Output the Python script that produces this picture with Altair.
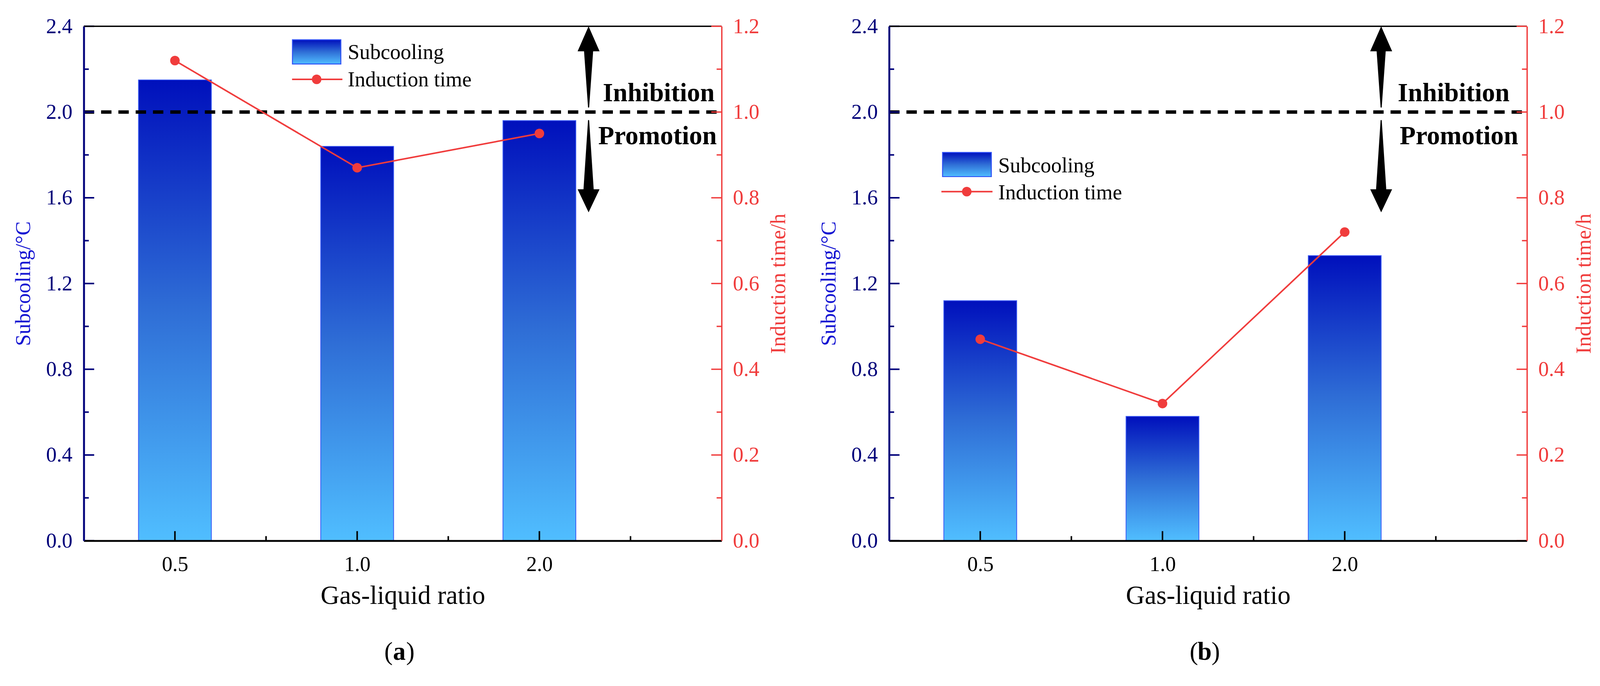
import altair as alt
import pandas as pd

# ---------------- data ----------------
ratio_labels = ["0.5", "1.0", "2.0"]
positions = [1, 2, 3]
subcooling_a = [2.15, 1.84, 1.96]
induction_a = [1.12, 0.87, 0.95]
subcooling_b = [1.12, 0.58, 1.33]
induction_b = [0.47, 0.32, 0.72]
threshold = [2.0]

left_major = [0.0, 0.4, 0.8, 1.2, 1.6, 2.0, 2.4]
left_minor = [0.2, 0.6, 1.0, 1.4, 1.8, 2.2]
right_major = [0.0, 0.2, 0.4, 0.6, 0.8, 1.0, 1.2]
right_minor = [0.1, 0.3, 0.5, 0.7, 0.9, 1.1]
x_major = [1, 2, 3]
x_minor = [1.5, 2.5, 3.5]

# ---------------- styling / layout ----------------
F = "Liberation Serif"
NAVY = "#00007A"
BLUE = "#1414D2"
RED = "#F03C3C"
W, H = 1660, 1338

xs = alt.Scale(domain=[0.5, 4.0], nice=False, zero=False)
ysL = alt.Scale(domain=[0, 2.4], nice=False)
ysR = alt.Scale(domain=[0, 1.2], nice=False)

GRAD = {
    "gradient": "linear", "x1": 0, "x2": 0, "y1": 0, "y2": 1,
    "stops": [
        {"offset": 0, "color": "#0010BC"},
        {"offset": 0.5, "color": "#2F6ED6"},
        {"offset": 1, "color": "#50BEFF"},
    ],
}

UP_HEAD = "M0,-1L0.88,1L-0.88,1Z"
DOWN_HEAD = "M0,1L0.95,-1L-0.95,-1Z"

LAYOUT = {
    "a": dict(arrow_x=3.27, inh_x=3.348, pro_x=3.323,
              sw=(543, 669, 35, 98), ln=(542, 673, 138), dot=606, tx=687, t1=85, t2=156),
    "b": dict(arrow_x=3.20, inh_x=3.291, pro_x=3.302,
              sw=(139, 266, 328, 391), ln=(136, 269, 430), dot=202, tx=284, t1=380, t2=450),
}

lab_expr = " : ".join(f"datum.value == {p} ? '{l}'" for p, l in zip(positions, ratio_labels)) + " : ''"

one = pd.DataFrame({"k": [0]})

X_AXIS = alt.Axis(
    orient="bottom", values=x_major, labelExpr=lab_expr, ticks=False, tickSize=0,
    domainColor="black", domainWidth=5, labelColor="black", labelFont=F,
    labelFontSize=55, labelPadding=35, labelFlush=False, grid=False,
    title="Gas-liquid ratio", titleFont=F, titleFontSize=68, titleFontWeight="normal",
    titleColor="black", titlePadding=20, minExtent=90, maxExtent=90, zindex=1,
)
LEFT_AXIS = alt.Axis(
    orient="left", values=left_major, format=".1f", ticks=False, tickSize=0,
    domainColor=NAVY, domainWidth=5, labelColor=NAVY, labelFont=F, labelFontSize=55,
    labelPadding=30, grid=False, title="Subcooling/°C", titleColor=BLUE, titleFont=F,
    titleFontSize=55, titleFontWeight="normal", titlePadding=28,
    minExtent=100, maxExtent=100, zindex=1,
)
RIGHT_AXIS = alt.Axis(
    orient="right", values=right_major, format=".1f", ticks=False, tickSize=0,
    domainColor=RED, domainWidth=3.5, labelColor=RED, labelFont=F, labelFontSize=55,
    labelPadding=29, grid=False, title="Induction time/h", titleColor=RED, titleFont=F,
    titleFontSize=55, titleFontWeight="normal", titleAngle=270, titleBaseline="top",
    titlePadding=22, minExtent=100, maxExtent=100, zindex=1,
)


def X(f):
    return alt.X(f, scale=xs, axis=X_AXIS)


def YL(f):
    return alt.Y(f, scale=ysL, axis=LEFT_AXIS)


def YR(f):
    return alt.Y(f, scale=ysR, axis=RIGHT_AXIS)


def vals(v):
    return pd.DataFrame({"v": v})


def panel(sub, ind, key):
    lay = LAYOUT[key]
    bars_df = pd.DataFrame({"pos": positions, "label": ratio_labels, "sub": sub})
    ind_df = pd.DataFrame({"pos": positions, "ind": ind})

    bars = alt.Chart(bars_df).transform_calculate(
        x0="datum.pos - 0.2", x1="datum.pos + 0.2"
    ).mark_bar(fill=GRAD, stroke="#3A5AF5", strokeWidth=2).encode(
        x=X("x0:Q"), x2="x1:Q", y=YL("sub:Q"), y2=alt.datum(0),
    )

    dash = alt.Chart(vals(threshold)).mark_rule(
        color="black", strokeWidth=9, strokeDash=[27, 18]
    ).encode(y=YL("v:Q"), x=alt.value(0), x2=alt.value(W))

    # double arrows
    ax = lay["arrow_x"]
    shaft_df = pd.DataFrame({
        "id": ["up", "up", "down", "down"],
        "x": [ax] * 4,
        "y": [2.023, 2.30, 1.96, 1.62],
        "w": [3, 25, 3, 28],
        "o": [0, 1, 0, 1],
    })
    shafts = alt.Chart(shaft_df).mark_trail(color="black").encode(
        x=X("x:Q"), y=YL("y:Q"),
        size=alt.Size("w:Q", scale=None, legend=None),
        detail="id:N", order="o:Q",
    )
    up_head = alt.Chart(pd.DataFrame({"x": [ax], "y": [2.4]})).mark_point(
        shape=UP_HEAD, filled=True, size=4225, color="black", opacity=1, yOffset=32.5
    ).encode(x=X("x:Q"), y=YL("y:Q"))
    down_head = alt.Chart(pd.DataFrame({"x": [ax], "y": [1.532]})).mark_point(
        shape=DOWN_HEAD, filled=True, size=3600, color="black", opacity=1, yOffset=-30
    ).encode(x=X("x:Q"), y=YL("y:Q"))

    txt_df = pd.DataFrame({
        "x": [lay["inh_x"], lay["pro_x"]],
        "y": [2.05, 1.85],
        "t": ["Inhibition", "Promotion"],
    })
    texts = alt.Chart(txt_df).mark_text(
        font=F, fontSize=68, fontWeight="bold", align="left", baseline="alphabetic", color="black"
    ).encode(x=X("x:Q"), y=YL("y:Q"), text="t:N")

    # inward ticks
    lt_major = alt.Chart(vals(left_major)).mark_rule(color=NAVY, strokeWidth=4).encode(
        y=YL("v:Q"), x=alt.value(0), x2=alt.value(27))
    lt_minor = alt.Chart(vals(left_minor)).mark_rule(color=NAVY, strokeWidth=4).encode(
        y=YL("v:Q"), x=alt.value(0), x2=alt.value(13))
    xt_major = alt.Chart(vals(x_major)).mark_rule(color="black", strokeWidth=4).encode(
        x=X("v:Q"), y=alt.value(H), y2=alt.value(H - 25))
    xt_minor = alt.Chart(vals(x_minor)).mark_rule(color="black", strokeWidth=4).encode(
        x=X("v:Q"), y=alt.value(H), y2=alt.value(H - 12))
    top_line = alt.Chart(one).mark_rule(color="black", strokeWidth=3.5).encode(
        x=alt.value(0), x2=alt.value(W), y=alt.value(0))

    # legend
    sx1, sx2, sy1, sy2 = lay["sw"]
    lx1, lx2, ly = lay["ln"]
    leg_sw = alt.Chart(one).mark_rect(fill=GRAD, stroke="#2F50F5", strokeWidth=2.5).encode(
        x=alt.value(sx1), x2=alt.value(sx2), y=alt.value(sy1), y2=alt.value(sy2))
    leg_ln = alt.Chart(one).mark_rule(color=RED, strokeWidth=4).encode(
        x=alt.value(lx1), x2=alt.value(lx2), y=alt.value(ly))
    leg_dot = alt.Chart(one).mark_point(filled=True, shape="circle", size=620, color=RED, opacity=1).encode(
        x=alt.value(lay["dot"]), y=alt.value(ly))
    leg_t1 = alt.Chart(one).mark_text(text="Subcooling", font=F, fontSize=55, align="left",
                                      baseline="alphabetic", color="black").encode(
        x=alt.value(lay["tx"]), y=alt.value(lay["t1"]))
    leg_t2 = alt.Chart(one).mark_text(text="Induction time", font=F, fontSize=55, align="left",
                                      baseline="alphabetic", color="black").encode(
        x=alt.value(lay["tx"]), y=alt.value(lay["t2"]))

    # caption (a)/(b)
    cx = 821
    cy = H + 290
    cap_l = alt.Chart(one).mark_text(text="(", font=F, fontSize=66, align="right", baseline="middle",
                                     color="black", dx=-17).encode(x=alt.value(cx), y=alt.value(cy))
    cap_m = alt.Chart(one).mark_text(text=key, font=F, fontSize=66, fontWeight="bold", align="center",
                                     baseline="middle", color="black").encode(x=alt.value(cx), y=alt.value(cy))
    cap_r = alt.Chart(one).mark_text(text=")", font=F, fontSize=66, align="left", baseline="middle",
                                     color="black", dx=18).encode(x=alt.value(cx), y=alt.value(cy))

    left_group = alt.layer(
        bars, dash, shafts, up_head, down_head, texts,
        lt_major, lt_minor, xt_major, xt_minor, top_line,
        leg_sw, leg_ln, leg_dot, leg_t1, leg_t2, cap_l, cap_m, cap_r,
    )

    line = alt.Chart(ind_df).mark_line(color=RED, strokeWidth=4).encode(
        x=X("pos:Q"), y=YR("ind:Q"))
    pts = alt.Chart(ind_df).mark_point(filled=True, shape="circle", size=620, color=RED, opacity=1).encode(
        x=X("pos:Q"), y=YR("ind:Q"))
    rt_major = alt.Chart(vals(right_major)).mark_rule(color=RED, strokeWidth=3.5).encode(
        y=YR("v:Q"), x=alt.value(W - 27), x2=alt.value(W))
    rt_minor = alt.Chart(vals(right_minor)).mark_rule(color=RED, strokeWidth=3.5).encode(
        y=YR("v:Q"), x=alt.value(W - 13), x2=alt.value(W))

    right_group = alt.layer(line, pts, rt_major, rt_minor)

    return alt.layer(left_group, right_group).resolve_scale(y="independent").properties(width=W, height=H)


chart = alt.hconcat(
    panel(subcooling_a, induction_a, "a"),
    panel(subcooling_b, induction_b, "b"),
    spacing=74,
).properties(
    padding={"left": 25, "top": 18, "right": 5, "bottom": 5}
).configure_view(strokeWidth=0).configure(background="white")

chart.save("out.html", embed_options={"renderer": "svg", "actions": False})
